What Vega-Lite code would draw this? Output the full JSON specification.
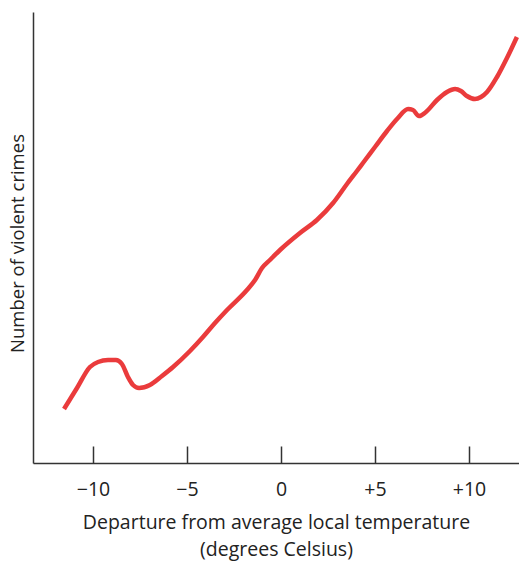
{
  "$schema": "https://vega.github.io/schema/vega-lite/v6.json",
  "autosize": "none",
  "width": 486,
  "height": 451,
  "padding": {"left": 33, "top": 12, "right": 0, "bottom": 102},
  "background": "white",
  "config": {"view": {"stroke": null}, "font": "Open Sans"},
  "data": {"values": [
    {"t": -11.54, "c": 54}, {"t": -10.85, "c": 75}, {"t": -10.16, "c": 96}, {"t": -9.73, "c": 101},
    {"t": -9.20, "c": 103}, {"t": -8.78, "c": 103}, {"t": -8.46, "c": 99}, {"t": -8.14, "c": 86},
    {"t": -7.87, "c": 78}, {"t": -7.55, "c": 75}, {"t": -6.97, "c": 78}, {"t": -6.33, "c": 87},
    {"t": -5.74, "c": 96}, {"t": -4.84, "c": 112}, {"t": -4.15, "c": 126}, {"t": -3.51, "c": 140},
    {"t": -2.87, "c": 153}, {"t": -1.81, "c": 173}, {"t": -1.38, "c": 183}, {"t": -1.01, "c": 195},
    {"t": -0.59, "c": 203}, {"t": -0.05, "c": 213}, {"t": 1.01, "c": 230}, {"t": 1.91, "c": 243},
    {"t": 2.77, "c": 260}, {"t": 3.51, "c": 279}, {"t": 4.04, "c": 292}, {"t": 4.36, "c": 300},
    {"t": 5.0, "c": 316}, {"t": 5.64, "c": 332}, {"t": 6.22, "c": 345}, {"t": 6.76, "c": 354},
    {"t": 7.02, "c": 353}, {"t": 7.34, "c": 347}, {"t": 7.71, "c": 351}, {"t": 8.30, "c": 363},
    {"t": 8.83, "c": 371}, {"t": 9.26, "c": 374}, {"t": 9.57, "c": 372}, {"t": 9.89, "c": 367},
    {"t": 10.32, "c": 364}, {"t": 10.64, "c": 366}, {"t": 10.96, "c": 371}, {"t": 11.49, "c": 386},
    {"t": 12.02, "c": 405}, {"t": 12.55, "c": 426}
  ]},
  "mark": {"type": "line", "color": "#ea3b3c", "strokeWidth": 4.5, "interpolate": "monotone", "strokeCap": "butt", "clip": true},
  "encoding": {
    "x": {
      "field": "t", "type": "quantitative",
      "scale": {"domain": [-13.19, 12.66], "nice": false, "zero": false},
      "axis": {
        "values": [-10, -5, 0, 5, 10],
        "labelExpr": "datum.value > 0 ? '+' + datum.value : (datum.value < 0 ? '\u2212' + abs(datum.value) : '0')",
        "grid": false,
        "domainColor": "#333333", "domainWidth": 1.5,
        "tickColor": "#333333", "tickWidth": 1.5, "tickSize": -17,
        "labelFontSize": 19.5, "labelColor": "#222222", "labelPadding": 34,
        "title": ["Departure from average local temperature", "(degrees Celsius)"],
        "titleFontSize": 19.5, "titleFontWeight": "normal", "titleColor": "#222222",
        "titleLineHeight": 27, "titlePadding": 15
      }
    },
    "y": {
      "field": "c", "type": "quantitative",
      "scale": {"domain": [0, 451], "nice": false},
      "axis": {
        "ticks": false, "labels": false, "grid": false,
        "domainColor": "#333333", "domainWidth": 1.5,
        "title": "Number of violent crimes",
        "titleFontSize": 18.5, "titleFontWeight": "normal", "titleColor": "#222222",
        "titlePadding": 6, "titleY": 231
      }
    }
  }
}
